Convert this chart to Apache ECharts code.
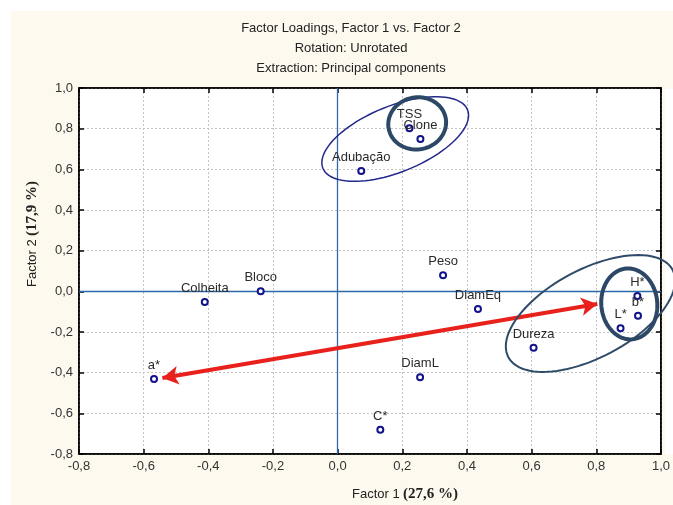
<!DOCTYPE html>
<html><head><meta charset="utf-8">
<script src="https://cdn.jsdelivr.net/npm/echarts@6/dist/echarts.min.js"></script>
<style>html,body{margin:0;padding:0;background:#fff}#c{width:673px;height:505px}</style>
</head><body><div id="c"></div><script>
// ---- data ----
const varNames = ['TSS','Clone','Adubação','Peso','DiamEq','Dureza','L*','b*','H*','Colheita','Bloco','a*','DiamL','C*'];
const factor1 = [0.222,0.256,0.073,0.326,0.434,0.606,0.875,0.929,0.927,-0.411,-0.238,-0.568,0.255,0.132];
const factor2 = [0.802,0.749,0.592,0.079,-0.087,-0.277,-0.182,-0.120,-0.023,-0.053,0.000,-0.431,-0.422,-0.681];
const xTicks = [-0.8,-0.6,-0.4,-0.2,0.0,0.2,0.4,0.6,0.8,1.0];
const yTicks = [-0.8,-0.6,-0.4,-0.2,0.0,0.2,0.4,0.6,0.8,1.0];
const titleLines = ['Factor Loadings, Factor 1 vs. Factor 2','Rotation: Unrotated','Extraction: Principal components'];
// annotation anchors (data coordinates)
const ellipseCenters = [[0.178,0.749],[0.246,0.826],[0.782,-0.109],[0.902,-0.062]];
const arrowFrom = [0.803,-0.062];
const arrowTo = [-0.542,-0.426];
const zeroLines = [{xAxis:0},{yAxis:0}];

const fmt = v => v.toFixed(1).replace('.', ',');
const FONT = '"Liberation Sans", Arial, sans-serif';
const chart = echarts.init(document.getElementById('c'));
const pts = factor1.map((x,i)=>[x, factor2[i], varNames[i]]);

const option = {
  backgroundColor: '#fdf9ef',
  animation: false,
  grid: {left: 79, top: 88, right: 9, bottom: 51, show: true, backgroundColor: '#ffffff', borderColor: '#000', borderWidth: 1.5},
  xAxis: [
    {type:'value', min:xTicks[0], max:xTicks[xTicks.length-1], interval:0.2, position:'bottom',
     axisLine:{show:true,onZero:false,lineStyle:{color:'#000',width:1.5}},
     axisTick:{show:true,inside:true,length:5,lineStyle:{color:'#000',width:1.5}},
     axisLabel:{formatter:fmt, color:'#333', fontFamily:FONT, fontSize:13, margin:6},
     splitLine:{show:true,lineStyle:{color:'#c4c4c4',type:[2,2],width:1}}},
    {type:'value', min:xTicks[0], max:xTicks[xTicks.length-1], interval:0.2, position:'top',
     axisLine:{show:true,onZero:false,lineStyle:{color:'#000',width:1.5}},
     axisTick:{show:true,inside:true,length:5,lineStyle:{color:'#000',width:1.5}},
     axisLabel:{show:false}, splitLine:{show:false}}
  ],
  yAxis: [
    {type:'value', min:yTicks[0], max:yTicks[yTicks.length-1], interval:0.2, position:'left',
     axisLine:{show:true,onZero:false,lineStyle:{color:'#000',width:1.5}},
     axisTick:{show:true,inside:true,length:5,lineStyle:{color:'#000',width:1.5}},
     axisLabel:{formatter:fmt, color:'#333', fontFamily:FONT, fontSize:13, margin:6},
     splitLine:{show:true,lineStyle:{color:'#c4c4c4',type:[2,2],width:1}}},
    {type:'value', min:yTicks[0], max:yTicks[yTicks.length-1], interval:0.2, position:'right',
     axisLine:{show:true,onZero:false,lineStyle:{color:'#000',width:1.5}},
     axisTick:{show:true,inside:true,length:5,lineStyle:{color:'#000',width:1.5}},
     axisLabel:{show:false}, splitLine:{show:false}}
  ],
  series: [
    {type:'scatter', data: [], z:3,
     markLine:{silent:true, symbol:'none', label:{show:false}, precision:4,
       lineStyle:{color:'#2f6aa8', width:1.3, type:'solid', opacity:1},
       emphasis:{disabled:true},
       data: zeroLines}
    },
    {type:'scatter', data: pts, symbol:'emptyCircle', symbolSize:6, z:5,
     itemStyle:{color:'#12128a', borderColor:'#12128a', borderWidth:2, opacity:1},
     label:{show:true, position:'top', distance:3, formatter:p=>p.data[2], color:'#2a2a2a', fontFamily:FONT, fontSize:13}
    },
    {type:'scatter', data: [], z:8,
     markLine:{silent:true, symbol:['arrow','arrow'], symbolSize:[14,16], label:{show:false},
       lineStyle:{color:'#e8211d', width:4, type:'solid', opacity:1},
       data:[[{coord:arrowFrom},{coord:arrowTo}]]}
    }
  ]
};
chart.setOption(option);

function ellipsePts(c, a, b, deg){
  const t = deg*Math.PI/180, out=[];
  for(let k=0;k<96;k++){
    const u = 2*Math.PI*k/96;
    const ex = a*Math.cos(u), ey = b*Math.sin(u);
    out.push([c[0]+ex*Math.cos(t)-ey*Math.sin(t), c[1]+ex*Math.sin(t)+ey*Math.cos(t)]);
  }
  return out;
}
const ellStyles = [
  {a:78,b:33,deg:-22,color:'#23268a',w:1.5},
  {a:29,b:26,deg:-10,color:'#2d4866',w:4},
  {a:93,b:44,deg:-28,color:'#2f4b69',w:2},
  {a:28,b:35.5,deg:-5,color:'#2d4866',w:4}
];
const graphics = [
  {type:'rect', shape:{x:0,y:0,width:673,height:11}, style:{fill:'#fff'}, silent:true, z:0},
  {type:'rect', shape:{x:0,y:0,width:11,height:505}, style:{fill:'#fff'}, silent:true, z:0},
  {type:'rect', shape:{x:665,y:89,width:8,height:365}, style:{fill:'#fff'}, silent:true, z:0}
];
titleLines.forEach((t,i)=>graphics.push({type:'text', x:351, y:28+20*i, silent:true,
  style:{text:t, fill:'#222', font:'13px '+FONT, textAlign:'center', textVerticalAlign:'middle'}}));
graphics.push({type:'text', x:405, y:494, silent:true,
  style:{text:'{a|Factor 1} {b|(27,6 %)}', textAlign:'center', textVerticalAlign:'middle',
    rich:{a:{fontFamily:FONT,fontSize:13,fill:'#222'}, b:{fontFamily:'"Liberation Serif","Times New Roman",serif',fontSize:15,fontWeight:'bold',fill:'#222'}}}});
graphics.push({type:'text', x:32, y:234, rotation:Math.PI/2, silent:true,
  style:{text:'{a|Factor 2} {b|(17,9 %)}', textAlign:'center', textVerticalAlign:'middle',
    rich:{a:{fontFamily:FONT,fontSize:13,fill:'#222'}, b:{fontFamily:'"Liberation Serif","Times New Roman",serif',fontSize:15,fontWeight:'bold',fill:'#222'}}}});
ellipseCenters.forEach((c,i)=>{
  const p = chart.convertToPixel({xAxisIndex:0,yAxisIndex:0}, c);
  const s = ellStyles[i];
  graphics.push({type:'polygon', silent:true, z:100,
    shape:{points: ellipsePts(p, s.a, s.b, s.deg)},
    style:{fill:'none', stroke:s.color, lineWidth:s.w}});
});
chart.setOption({graphic: graphics});
</script></body></html>
